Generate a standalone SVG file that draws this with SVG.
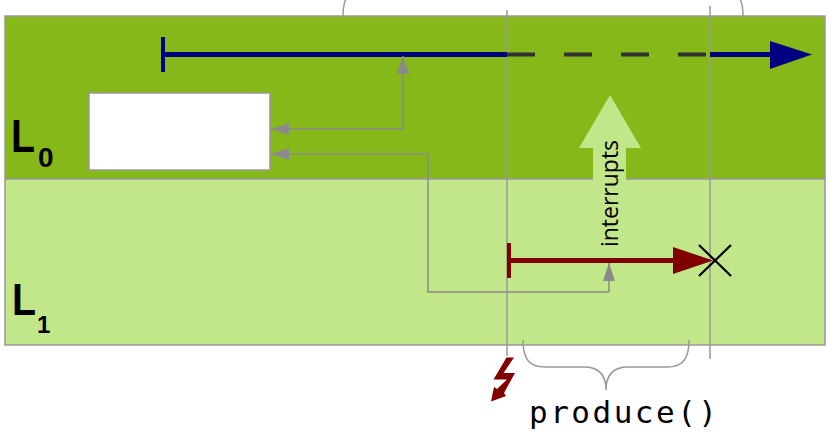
<svg xmlns="http://www.w3.org/2000/svg" width="835" height="432" viewBox="0 0 835 432">
<defs>
<style>
.gl{fill:none;stroke:#8a8a8a;stroke-width:1.5}
.vl{fill:none;stroke:#999;stroke-width:1.5}
.lab{font-family:"Liberation Sans",Arial,sans-serif;font-weight:bold;fill:#000}
</style>
<marker id="ga" viewBox="0 0 18 12" refX="18" refY="6" markerWidth="18" markerHeight="12" markerUnits="userSpaceOnUse" orient="auto">
<path d="M0,0 L18,6 L0,12 Z" fill="#8a8a8a"/>
</marker>
</defs>
<rect width="835" height="432" fill="#fff"/>
<g id="band-L0">
<rect x="5" y="16" width="820" height="163" fill="#86b81a" stroke="#999" stroke-width="1.5"/>
<text class="lab" x="11" y="152" font-size="46" textLength="24" lengthAdjust="spacingAndGlyphs">L</text>
<text class="lab" x="38" y="167" font-size="28">0</text>
</g>
<g id="band-L1">
<rect x="5" y="179" width="820" height="166" fill="#c2e68a" stroke="#999" stroke-width="1.5"/>
<text class="lab" x="12" y="315" font-size="45" textLength="24" lengthAdjust="spacingAndGlyphs">L</text>
<text class="lab" x="37" y="333" font-size="24">1</text>
</g>
<g id="box">
<rect x="89" y="93" width="181" height="77" fill="#fff" stroke="#999" stroke-width="1.5"/>
</g>
<g id="big-arrow">
<polygon points="593,180 593,148 579,148 610,95 641,148 626,148 626,180" fill="#c2e68a"/>
<text x="618" y="193.5" transform="rotate(-90 618 193.5)" text-anchor="middle" font-family="'Open Sans','DejaVu Sans',sans-serif" font-size="23" fill="#000">interrupts</text>
</g>
<g id="connectors">
<path class="vl" d="M507,10 V356"/>
<path class="vl" d="M710,6 V359"/>
<path class="vl" d="M343,16 C343,-4 350,-11 365,-11 L521,-11 C536,-11 543,-20 543,-34 C543,-20 550,-11 565,-11 L721,-11 C736,-11 743,-4 743,16"/>
<path class="vl" d="M523,340 C523,360 530,367 545,367 L584,367 C599,367 606,375 606,390 C606,375 613,367 628,367 L667,367 C682,367 689,360 689,340"/>
<line x1="163" y1="54.5" x2="507" y2="54.5" stroke="#000080" stroke-width="5"/>
<line x1="163" y1="37" x2="163" y2="72" stroke="#000080" stroke-width="4"/>
<line x1="507" y1="54.5" x2="709" y2="54.5" stroke="#333" stroke-width="4" stroke-dasharray="28 29"/>
<line x1="710" y1="54.5" x2="772" y2="54.5" stroke="#000080" stroke-width="5"/>
<polygon points="770,41 812,54.5 770,69" fill="#000080"/>
<line x1="509" y1="260.5" x2="675" y2="260.5" stroke="#800000" stroke-width="5"/>
<line x1="509" y1="243" x2="509" y2="278" stroke="#800000" stroke-width="4"/>
<polygon points="673,247 713,260.5 673,274" fill="#800000"/>
<path d="M699,245 L731,276 M731,245 L699,276" stroke="#000" stroke-width="2.2" fill="none"/>
<path class="gl" d="M403,129 V56" marker-end="url(#ga)"/>
<path class="gl" d="M403,129 H271" marker-end="url(#ga)"/>
<path class="gl" d="M609,292 V263" marker-end="url(#ga)"/>
<path class="gl" d="M609,292 H428 V154 H271" marker-end="url(#ga)"/>
<polygon points="506.5,357.5 514,357.5 503.5,373 515,373 504,393 506,396 491,401.5 494,387 497,389 507,379.5 493.5,379.5" fill="#800000"/>
</g>
<g id="produce-label">
<text x="529" y="423" font-family="'DejaVu Sans Mono','Liberation Mono',monospace" font-size="31" textLength="188" lengthAdjust="spacing" fill="#000">produce()</text>
</g>
</svg>
